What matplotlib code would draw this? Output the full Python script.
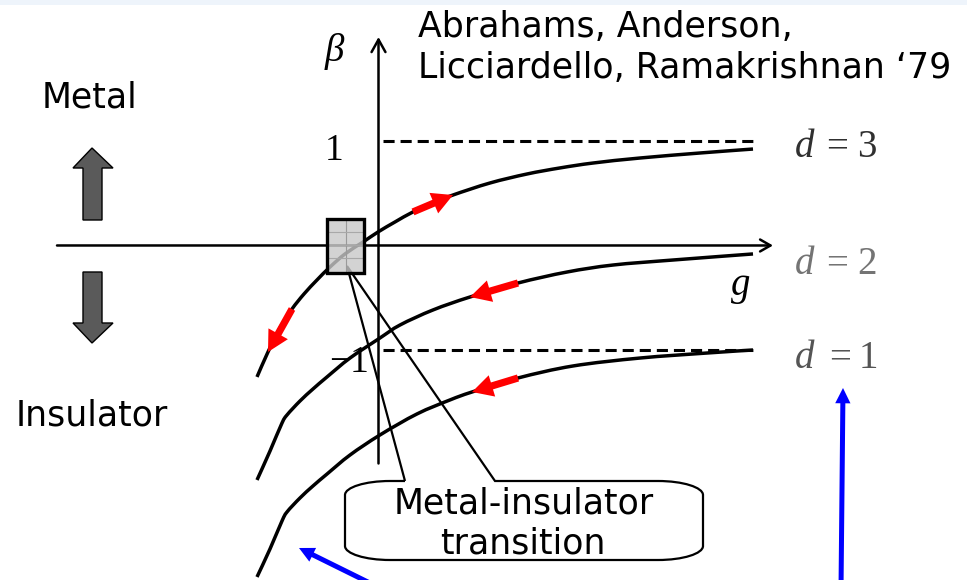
import numpy as np
import matplotlib
matplotlib.use("Agg")
import matplotlib.pyplot as plt
from matplotlib.patches import FancyArrowPatch, Polygon, Rectangle, PathPatch
from matplotlib.path import Path

plt.rcParams['lines.scale_dashes'] = False

# ---- scaling function beta(g) for three dimensions ----
g_d3 = [-1.21, -1.10, -0.98, -0.86, -0.74, -0.61, -0.48, -0.33, -0.15, 0.00,
        0.17, 0.35, 0.55, 0.75, 1.12, 1.49, 1.82, 2.15, 2.62, 3.22, 3.75]
beta_d3 = [-1.258, -1.019, -0.789, -0.608, -0.464, -0.330, -0.206, -0.081,
           0.033, 0.129, 0.225, 0.321, 0.407, 0.483, 0.598, 0.684, 0.742,
           0.789, 0.837, 0.885, 0.923]

g_d2 = [-1.21, -1.08, -0.96, -0.91, -0.78, -0.65, -0.51, -0.28, 0.02, 0.22,
        0.55, 0.92, 1.40, 1.89, 2.35, 2.95, 3.75]
beta_d2 = [-2.244, -1.967, -1.699, -1.622, -1.488, -1.373, -1.258, -1.077,
           -0.885, -0.761, -0.617, -0.493, -0.359, -0.254, -0.187, -0.139,
           -0.081]

g_d1 = [-1.21, -1.08, -0.96, -0.91, -0.78, -0.65, -0.51, -0.28, 0.02, 0.39,
        0.72, 0.94, 1.40, 1.95, 2.62, 3.29, 3.75]
beta_d1 = [-3.172, -2.904, -2.636, -2.550, -2.416, -2.301, -2.187, -2.005,
           -1.813, -1.612, -1.478, -1.402, -1.268, -1.153, -1.077, -1.029,
           -1.000]

# RG flow direction markers: (g at tail, g at tip) on each curve
flow_d3 = [(0.35, 0.75), (-0.86, -1.10)]
flow_d2 = [(1.40, 0.92)]
flow_d1 = [(1.40, 0.94)]

asymptotes = [1, -1]
dim_values = ["3", "2", "1"]
beta_ticks = ["1", "\u22121"]

W, H = 967, 580
fig = plt.figure(figsize=(W / 100, H / 100), dpi=100, facecolor='white')

# beta-g plane
ax = fig.add_axes([0, 0, 1, 1])
ax.set_xlim(-3.78, 5.89)
ax.set_ylim(-3.201, 2.349)
ax.axis('off')

# annotation layer in pixel units
deco = fig.add_axes([0, 0, 1, 1])
deco.set_xlim(0, W)
deco.set_ylim(H, 0)
deco.axis('off')

deco.add_patch(Rectangle((0, 0), W, 4.5, color='#eef4fb', lw=0, zorder=0))


def smooth_path(xs, ys):
    """Cubic Bezier path through every point (Catmull-Rom tangents)."""
    p = np.column_stack([xs, ys]).astype(float)
    ext = np.vstack([p[0], p, p[-1]])
    verts, codes = [p[0]], [Path.MOVETO]
    for i in range(len(p) - 1):
        a, b, c, d = ext[i], ext[i + 1], ext[i + 2], ext[i + 3]
        verts += [b + (c - a) / 6.0, c - (d - b) / 6.0, c]
        codes += [Path.CURVE4] * 3
    return Path(verts, codes)


# coordinate axes
ax.add_patch(FancyArrowPatch((-3.21, 0), (3.95, 0),
                             arrowstyle='->,head_length=7.5,head_width=4.3',
                             mutation_scale=1, lw=1.8, color='black',
                             shrinkA=0, shrinkB=0, zorder=2))
ax.add_patch(FancyArrowPatch((0.005, -2.086), (0.005, 1.995),
                             arrowstyle='->,head_length=9,head_width=5',
                             mutation_scale=1, lw=1.8, color='black',
                             shrinkA=0, shrinkB=0, zorder=2))

for b in asymptotes:
    ax.plot([0.05, 3.79], [b, b], color='black', lw=2.2,
            ls=(0, (8, 4.3)), zorder=2)

curves = [(g_d3, beta_d3, flow_d3), (g_d2, beta_d2, flow_d2),
          (g_d1, beta_d1, flow_d1)]
for g, b, flows in curves:
    ax.add_patch(PathPatch(smooth_path(g, b), facecolor='none',
                           edgecolor='black', lw=2.5, capstyle='butt',
                           joinstyle='round', zorder=3))
    for g_tail, g_tip in flows:
        p0 = (g_tail, np.interp(g_tail, g, b))
        p1 = (g_tip, np.interp(g_tip, g, b))
        ax.add_patch(FancyArrowPatch(
            p0, p1,
            arrowstyle='simple,head_length=15,head_width=16,tail_width=5.2',
            mutation_scale=1, color='#ff0000', lw=0,
            shrinkA=0, shrinkB=0, zorder=4))

# axis labels and ticks
serif = 'Liberation Serif'
deco.text(334, 61, '\u03b2', family=serif, style='italic', fontsize=28,
          ha='center', va='baseline')
deco.text(343, 160, beta_ticks[0], family=serif, fontsize=27,
          ha='right', va='baseline')
deco.text(369, 372, beta_ticks[1], family=serif, fontsize=27,
          ha='right', va='baseline')
deco.text(741, 295, 'g', family=serif, style='italic', fontsize=28,
          ha='center', va='baseline')

dim_colors = ['#303030', '#747474', '#555555']
dim_baselines = [157, 274, 368]
dim_eq_x = [826, 826, 829]
dim_num_x = [857, 857, 859]
for val, col, yb, xe, xn in zip(dim_values, dim_colors, dim_baselines,
                                dim_eq_x, dim_num_x):
    deco.text(795, yb, 'd', family=serif, style='italic', fontsize=28,
              color=col, ha='left', va='baseline')
    deco.text(xe, yb, '=', family=serif, fontsize=28, color=col,
              ha='left', va='baseline')
    deco.text(xn, yb, val, family=serif, fontsize=28, color=col,
              ha='left', va='baseline')

# sans-serif annotations
sans = 'DejaVu Sans'
deco.text(418, 37, 'Abrahams, Anderson,', family=sans, fontsize=25,
          ha='left', va='baseline')
deco.text(418, 78, 'Licciardello, Ramakrishnan \u201879', family=sans,
          fontsize=25, ha='left', va='baseline')
deco.text(42, 107, 'Metal', family=sans, fontsize=25, ha='left',
          va='baseline')
deco.text(16, 425, 'Insulator', family=sans, fontsize=25, ha='left',
          va='baseline')

# block arrows for metal / insulator tendency
up = [(92, 148), (113, 168), (102, 168), (102, 220), (83, 220), (83, 168),
      (73, 168)]
down = [(83, 272), (102, 272), (102, 323), (113, 323), (92, 343), (73, 323),
        (83, 323)]
for pts in (up, down):
    deco.add_patch(Polygon(pts, closed=True, facecolor='#5a5a5a',
                           edgecolor='black', lw=1.0, zorder=3))

# critical point marker
deco.add_patch(Rectangle((327, 219), 37, 54, facecolor=(0.79, 0.79, 0.79, 0.8),
                         edgecolor='none', zorder=5))
deco.plot([345.5, 345.5], [220, 272], color='#9a9a9a', lw=0.8, zorder=5)
for yy in (232, 245, 258):
    deco.plot([328, 363], [yy, yy], color='#a8a8a8', lw=0.8, zorder=5)
deco.add_patch(Rectangle((327, 219), 37, 54, facecolor='none',
                         edgecolor='black', lw=2.4, zorder=6))

# callout
L, R, T, B = 345, 703, 481, 560
rx, ry, k = 45, 14, 0.55
verts = [(405, T), (L + rx, T),
         (L + rx * (1 - k), T), (L, T + ry * (1 - k)), (L, T + ry),
         (L, B - ry),
         (L, B - ry * (1 - k)), (L + rx * (1 - k), B), (L + rx, B),
         (R - rx, B),
         (R - rx * (1 - k), B), (R, B - ry * (1 - k)), (R, B - ry),
         (R, T + ry),
         (R, T + ry * (1 - k)), (R - rx * (1 - k), T), (R - rx, T),
         (495, T), (347, 266), (405, T)]
codes = [Path.MOVETO, Path.LINETO,
         Path.CURVE4, Path.CURVE4, Path.CURVE4,
         Path.LINETO,
         Path.CURVE4, Path.CURVE4, Path.CURVE4,
         Path.LINETO,
         Path.CURVE4, Path.CURVE4, Path.CURVE4,
         Path.LINETO,
         Path.CURVE4, Path.CURVE4, Path.CURVE4,
         Path.LINETO, Path.LINETO, Path.LINETO]
deco.add_patch(PathPatch(Path(verts, codes), facecolor='none',
                         edgecolor='black', lw=1.6, joinstyle='miter',
                         zorder=4))
deco.text(524, 513, 'Metal-insulator', family=sans, fontsize=25,
          ha='center', va='baseline')
deco.text(523, 553, 'transition', family=sans, fontsize=25,
          ha='center', va='baseline')

# blue pointer arrows
for p0, p1 in [((841, 590), (843, 388)), ((384, 590), (299, 548))]:
    deco.add_patch(FancyArrowPatch(
        p0, p1, arrowstyle='simple,head_length=11,head_width=11,tail_width=3.6',
        mutation_scale=1, color='#0000ff', lw=0, shrinkA=0, shrinkB=0,
        zorder=4))

fig.savefig('out.png', dpi=100, facecolor='white')
